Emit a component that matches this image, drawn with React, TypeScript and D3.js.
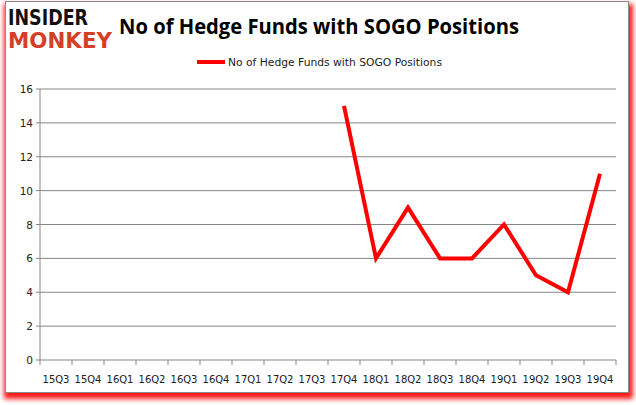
import React from "react";
import * as d3 from "d3";

const categories = ["15Q3","15Q4","16Q1","16Q2","16Q3","16Q4","17Q1","17Q2","17Q3","17Q4","18Q1","18Q2","18Q3","18Q4","19Q1","19Q2","19Q3","19Q4"];
const values: (number | null)[] = [null,null,null,null,null,null,null,null,null,15,6,9,6,6,8,5,4,11];
const yTicks = [0,2,4,6,8,10,12,14,16];
const seriesName = "No of Hedge Funds with SOGO Positions";
const title = "No of Hedge Funds with SOGO Positions";

export default function App() {
  const W = 636, H = 405;
  const left = 40, right = 616, top = 89, bottom = 360;
  const x = d3.scaleBand<string>().domain(categories).range([left, right]);
  const y = d3.scaleLinear().domain([0, 16]).range([bottom, top]);
  const pts = categories.map((c, i) => ({ c, v: values[i] })).filter(d => d.v !== null) as { c: string; v: number }[];
  const line = d3.line<{ c: string; v: number }>()
    .x(d => (x(d.c) as number) + x.bandwidth() / 2)
    .y(d => y(d.v));
  const bounds = d3.range(categories.length + 1).map(i => left + i * x.bandwidth());
  const font = "'DejaVu Sans', Verdana, sans-serif";
  return (
    <svg width={W} height={H} style={{ position: "absolute", left: 0, top: 0 }}>
      <defs>
        <filter id="blur" x="-5%" y="-5%" width="110%" height="110%">
          <feGaussianBlur stdDeviation="2.5" />
        </filter>
      </defs>
      <rect x={0} y={0} width={W} height={H} fill="#fff" />
      <rect x={4} y={4} width={629} height={395} fill="#ff0000" filter="url(#blur)" opacity={0.9} />
      <rect x={5.5} y={1.5} width={623} height={391} fill="#fff" stroke="#8a8a8a" strokeWidth={1} />
      {/* logo */}
      <text x={8} y={25} fontFamily="'DejaVu Sans', sans-serif" fontWeight={900} fontSize={22} fill="#111" textLength={80} lengthAdjust="spacingAndGlyphs">INSIDER</text>
      <text x={8} y={48} fontFamily="'DejaVu Sans', sans-serif" fontWeight={900} fontSize={22} fill="#d43f2a" textLength={104} lengthAdjust="spacingAndGlyphs">MONKEY</text>
      {/* title */}
      <text x={319} y={34} textAnchor="middle" fontFamily="'Open Sans', sans-serif" fontWeight={700} fontSize={21} fill="#000" textLength={400} lengthAdjust="spacingAndGlyphs">{title}</text>
      {/* legend */}
      <line x1={197} x2={225} y1={62} y2={62} stroke="#ff0000" strokeWidth={4} />
      <text x={228} y={66} fontFamily={font} fontSize={11} fill="#222" textLength={214} lengthAdjust="spacingAndGlyphs">{seriesName}</text>
      {/* grid */}
      {yTicks.filter(t => t > 0).map(t => (
        <line key={t} x1={left} x2={right} y1={y(t)} y2={y(t)} stroke="#868686" strokeWidth={1} />
      ))}
      {/* axes */}
      <line x1={left} x2={left} y1={top} y2={bottom} stroke="#868686" />
      <line x1={left} x2={right} y1={bottom} y2={bottom} stroke="#868686" />
      {yTicks.map(t => (
        <g key={t}>
          <line x1={left - 4} x2={left} y1={y(t)} y2={y(t)} stroke="#868686" />
          <text x={33} y={y(t) + 4} textAnchor="end" fontFamily={font} fontSize={10.5} fill="#222">{t}</text>
        </g>
      ))}
      {bounds.map((b, i) => (
        <line key={i} x1={b} x2={b} y1={bottom} y2={bottom + 5} stroke="#868686" />
      ))}
      {categories.map(c => (
        <text key={c} x={(x(c) as number) + x.bandwidth() / 2} y={383} textAnchor="middle" fontFamily={font} fontSize={10} fill="#222">{c}</text>
      ))}
      <path d={line(pts) || ""} fill="none" stroke="#ff0000" strokeWidth={4} strokeLinejoin="miter" />
    </svg>
  );
}
